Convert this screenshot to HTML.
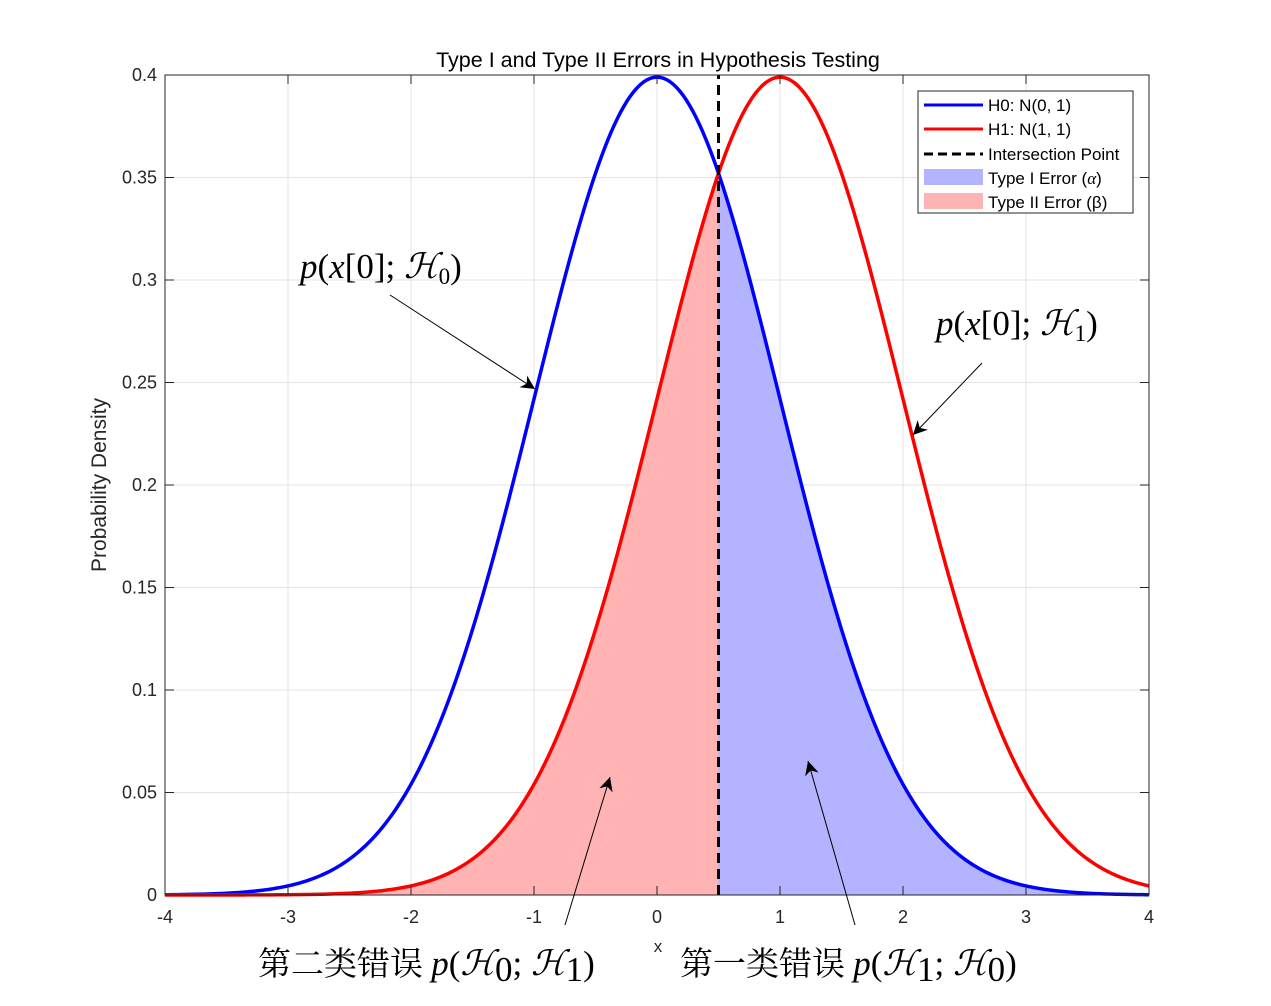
<!DOCTYPE html>
<html><head><meta charset="utf-8">
<style>
html,body{margin:0;padding:0;background:#fff;}
svg{display:block;font-family:"Liberation Sans",sans-serif;}
.tick{font-size:18px;fill:#262626;}
.math{font-family:"Liberation Serif","Noto Serif CJK SC",serif;font-size:35px;fill:#000;}
.it{font-style:italic;}
.cjk{font-family:"Liberation Serif","Noto Serif CJK SC",serif;font-size:33px;fill:#000;}
</style></head>
<body>
<svg id="chart" width="1271" height="1006" viewBox="0 0 1271 1006">
<defs>
<marker id="ah" viewBox="0 0 10 10" refX="10" refY="5" markerWidth="14" markerHeight="14" orient="auto" markerUnits="userSpaceOnUse">
<path d="M0,0 L10,5 L0,10 L3,5 z" fill="#000"/></marker>
</defs>
<g id="grid"></g>
<g id="fills"></g>
<g id="lines"></g>
<g id="axes"></g>
<text x="658" y="67" text-anchor="middle" font-size="21.5" fill="#000">Type I and Type II Errors in Hypothesis Testing</text>
<text x="658" y="952" text-anchor="middle" font-size="17" fill="#262626">x</text>
<text transform="translate(106,485) rotate(-90)" text-anchor="middle" font-size="21" fill="#262626">Probability Density</text>

<g>
<text x="300" y="278" class="math"><tspan class="it">p</tspan>(<tspan class="it">x</tspan>[0]; <tspan class="it">ℋ</tspan><tspan font-size="23" dy="6">0</tspan><tspan dy="-6">)</tspan></text>
<line x1="390" y1="295" x2="535" y2="389" stroke="#000" stroke-width="1" marker-end="url(#ah)"/>
<text x="936" y="335" class="math"><tspan class="it">p</tspan>(<tspan class="it">x</tspan>[0]; <tspan class="it">ℋ</tspan><tspan font-size="23" dy="6">1</tspan><tspan dy="-6">)</tspan></text>
<line x1="982" y1="363" x2="913" y2="435" stroke="#000" stroke-width="1" marker-end="url(#ah)"/>
<line x1="565" y1="925" x2="610" y2="777" stroke="#000" stroke-width="1" marker-end="url(#ah)"/>
<line x1="855" y1="925" x2="808" y2="761" stroke="#000" stroke-width="1" marker-end="url(#ah)"/>
<text x="258" y="975"><tspan class="cjk">第二类错误 </tspan><tspan class="math it">p</tspan><tspan class="math">(</tspan><tspan class="math it">ℋ</tspan><tspan class="math" font-size="23" dy="6">0</tspan><tspan class="math" dy="-6">; </tspan><tspan class="math it">ℋ</tspan><tspan class="math" font-size="23" dy="6">1</tspan><tspan class="math" dy="-6">)</tspan></text>
<text x="680" y="975"><tspan class="cjk">第一类错误 </tspan><tspan class="math it">p</tspan><tspan class="math">(</tspan><tspan class="math it">ℋ</tspan><tspan class="math" font-size="23" dy="6">1</tspan><tspan class="math" dy="-6">; </tspan><tspan class="math it">ℋ</tspan><tspan class="math" font-size="23" dy="6">0</tspan><tspan class="math" dy="-6">)</tspan></text>
</g>

<g>
<rect x="918" y="91" width="215" height="122" fill="#fff" stroke="#262626" stroke-width="1"/>
<g><line x1="924" y1="105" x2="983" y2="105" stroke="#0000ff" stroke-width="3"/><text x="988" y="111" font-size="17" fill="#000">H0: N(0, 1)</text></g>
<g><line x1="924" y1="129" x2="983" y2="129" stroke="#ff0000" stroke-width="3"/><text x="988" y="135" font-size="17" fill="#000">H1: N(1, 1)</text></g>
<g><line x1="924" y1="154" x2="983" y2="154" stroke="#000" stroke-width="3" stroke-dasharray="9,5"/><text x="988" y="160" font-size="17" fill="#000">Intersection Point</text></g>
<g><rect x="924" y="169" width="59" height="16" fill="#b3b3ff"/><text x="988" y="184" font-size="17" fill="#000">Type I Error (<tspan font-family="Liberation Serif" font-style="italic">α</tspan>)</text></g>
<g><rect x="924" y="193" width="59" height="16" fill="#ffb3b3"/><text x="988" y="208" font-size="17" fill="#000">Type II Error (β)</text></g>
</g>
</svg>
<script>
const means = [0, 1];
const sds = [1, 1];
const seriesColors = ['#0000ff', '#ff0000'];
const seriesNames = ['h0-curve', 'h1-curve'];
const threshold = [0.5];
const xTicks = [-4, -3, -2, -1, 0, 1, 2, 3, 4];
const yTicks = [0, 0.05, 0.1, 0.15, 0.2, 0.25, 0.3, 0.35, 0.4];
const yTickLabels = ['0', '0.05', '0.1', '0.15', '0.2', '0.25', '0.3', '0.35', '0.4'];
const xDomain = [-4, 4];
const yDomain = [0, 0.4];

const L = 165, R = 1149, T = 75, B = 895;
const sx = v => L + (v - xDomain[0]) / (xDomain[1] - xDomain[0]) * (R - L);
const sy = v => B - (v - yDomain[0]) / (yDomain[1] - yDomain[0]) * (B - T);
const pdf = (x, m, s) => Math.exp(-0.5 * ((x - m) / s) ** 2) / (s * Math.sqrt(2 * Math.PI));
const NS = 'http://www.w3.org/2000/svg';
function mk(tag, attrs, parent) {
  const e = document.createElementNS(NS, tag);
  for (const k in attrs) e.setAttribute(k, attrs[k]);
  parent.appendChild(e);
  return e;
}
const grid = document.getElementById('grid');
const axes = document.getElementById('axes');
const fills = document.getElementById('fills');
const lines = document.getElementById('lines');

xTicks.forEach(t => {
  const g = mk('line', {x1: sx(t), x2: sx(t), y1: T, y2: B, stroke: '#e3e3e3', 'stroke-width': 1}, grid);
  
  
  mk('line', {x1: sx(t), x2: sx(t), y1: B, y2: B - 9, stroke: '#262626'}, axes);
  mk('line', {x1: sx(t), x2: sx(t), y1: T, y2: T + 9, stroke: '#262626'}, axes);
  const tx = mk('text', {x: sx(t), y: B + 28, 'text-anchor': 'middle', class: 'tick'}, axes);
  tx.textContent = t;
  
  
});
yTicks.forEach((t, i) => {
  const g = mk('line', {x1: L, x2: R, y1: sy(t), y2: sy(t), stroke: '#e3e3e3', 'stroke-width': 1}, grid);
  
  
  mk('line', {x1: L, x2: L + 9, y1: sy(t), y2: sy(t), stroke: '#262626'}, axes);
  mk('line', {x1: R, x2: R - 9, y1: sy(t), y2: sy(t), stroke: '#262626'}, axes);
  const tx = mk('text', {x: L - 8, y: sy(t) + 6, 'text-anchor': 'end', class: 'tick'}, axes);
  tx.textContent = yTickLabels[i];
  
  
});
const box = mk('rect', {x: L, y: T, width: R - L, height: B - T, fill: 'none', stroke: '#262626', 'stroke-width': 1}, axes);



function curvePts(m, s, a, b) {
  const pts = [];
  const n = 300;
  for (let i = 0; i <= n; i++) {
    const x = a + (b - a) * i / n;
    pts.push([sx(x), sy(pdf(x, m, s))]);
  }
  return pts;
}
const th = threshold[0];
let p2 = curvePts(means[1], sds[1], xDomain[0], th);
let d2 = 'M' + sx(xDomain[0]) + ',' + sy(0) + ' L' + p2.map(p => p.join(',')).join(' L') + ' L' + sx(th) + ',' + sy(0) + ' Z';
const f2 = mk('path', {d: d2, fill: '#ffb3b3'}, fills);


let p1 = curvePts(means[0], sds[0], th, xDomain[1]);
let d1 = 'M' + sx(th) + ',' + sy(0) + ' L' + p1.map(p => p.join(',')).join(' L') + ' L' + sx(xDomain[1]) + ',' + sy(0) + ' Z';
const f1 = mk('path', {d: d1, fill: '#b3b3ff'}, fills);



means.forEach((m, i) => {
  const pts = curvePts(m, sds[i], xDomain[0], xDomain[1]);
  const p = mk('path', {d: 'M' + pts.map(q => q.join(',')).join(' L'), fill: 'none', stroke: seriesColors[i], 'stroke-width': 3.5}, lines);
  
  
});
const vl = mk('line', {x1: sx(th), x2: sx(th), y1: sy(0), y2: sy(yDomain[1]), stroke: '#000', 'stroke-width': 3, 'stroke-dasharray': '10,6'}, lines);


</script>
</body></html>
